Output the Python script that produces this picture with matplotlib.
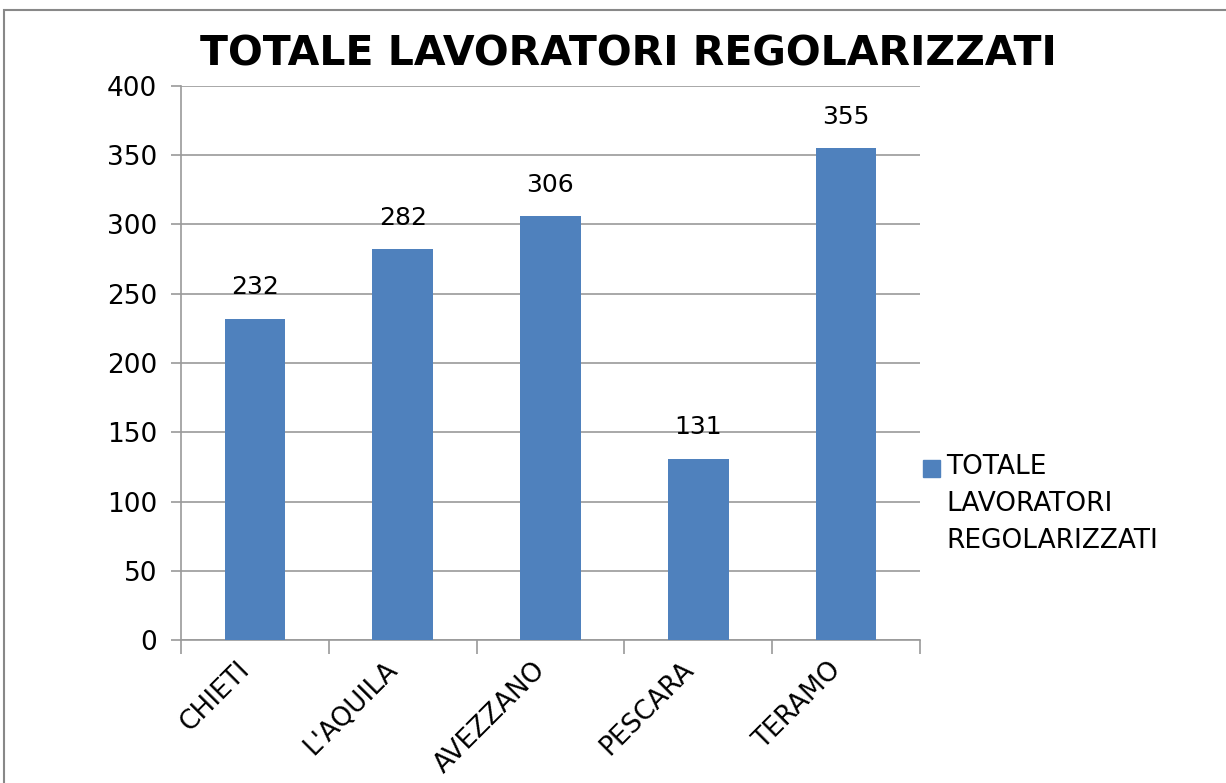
import matplotlib
matplotlib.use("Agg")
import matplotlib.pyplot as plt
import numpy as np
from matplotlib.patches import Rectangle

# ---- Dati ----
province = ["CHIETI", "L'AQUILA", "AVEZZANO", "PESCARA", "TERAMO"]
valori   = [232, 282, 306, 131, 355]
serie    = "TOTALE\nLAVORATORI\nREGOLARIZZATI"
titolo   = "TOTALE LAVORATORI REGOLARIZZATI"

BLU   = "#4F81BD"
GRIGIO = "#9a9a9a"

fig = plt.figure(figsize=(12.26, 7.83), dpi=100)
ax = fig.add_axes([0.1476, 0.1826, 0.6028, 0.7076])

x = np.arange(len(province))
bars = ax.bar(x, valori, width=0.41, color=BLU, zorder=3)

ax.set_xlim(-0.5, len(province) - 0.5)
ax.set_ylim(0, 400)
ax.set_yticks(np.arange(0, 401, 50))
ax.yaxis.grid(True, color=GRIGIO, lw=1.2, zorder=0)

# tacche sui confini delle categorie
ax.set_xticks(x - 0.12)
ax.set_xticklabels(province, rotation=45, ha="right", rotation_mode="anchor", fontsize=19)
ax.set_xticks(np.arange(-0.5, len(province)), minor=True)
ax.tick_params(axis="x", which="major", length=0, pad=12)
ax.tick_params(axis="x", which="minor", length=10, color=GRIGIO, width=1.2)
ax.tick_params(axis="y", length=7, color=GRIGIO, width=1.2, labelsize=19, pad=10)

for s in ["top", "right"]:
    ax.spines[s].set_visible(False)
for s in ["left", "bottom"]:
    ax.spines[s].set_color(GRIGIO)
    ax.spines[s].set_linewidth(1.2)

# etichette dati
for b, v in zip(bars, valori):
    ax.annotate(str(v), (b.get_x() + b.get_width() / 2, v), xytext=(0, 14),
                textcoords="offset points", ha="center", va="bottom", fontsize=18)

# legenda a destra
fig.patches.append(Rectangle((923 / 1226, 1 - 477 / 783), 17 / 1226, 17 / 783,
                             transform=fig.transFigure, color=BLU))
fig.text(946 / 1226, 1 - 454 / 783, serie, fontsize=19, va="top", ha="left",
         linespacing=1.55)

fig.suptitle(titolo, x=628 / 1226, y=1 - 34 / 783, va="top", fontsize=29.5,
             fontweight="bold")

# cornice del grafico
fig.patches.append(Rectangle((4 / 1226, -0.05), 1.1, 1.05 - 10 / 783,
                             transform=fig.transFigure, fill=False,
                             edgecolor="#888888", lw=1.5))

fig.savefig("out.png", dpi=100)
